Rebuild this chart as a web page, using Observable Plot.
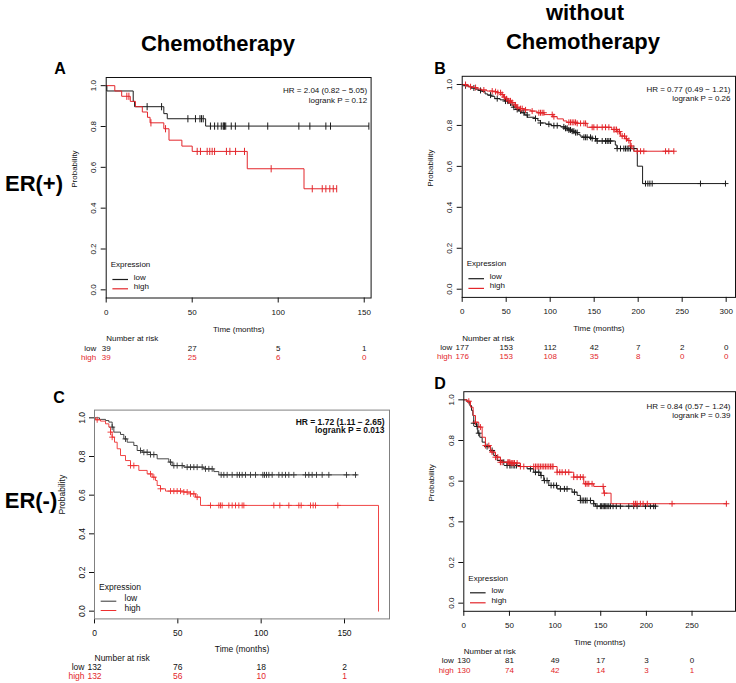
<!DOCTYPE html>
<html><head><meta charset="utf-8">
<script src="https://cdn.jsdelivr.net/npm/d3@7"></script>
<script src="https://cdn.jsdelivr.net/npm/@observablehq/plot@0.6"></script>
<style>
html,body{margin:0;padding:0;background:#fff;}
#root{position:relative;width:736px;height:683px;overflow:hidden;font-family:"Liberation Sans",Arial,sans-serif;}
#root svg.pan{position:absolute;}
#overlay{position:absolute;left:0;top:0;pointer-events:none;}
</style></head><body><div id="root"></div>
<script>
// ---------- data ----------
const groups = ["low", "high"];
const yTicks = [0, 0.2, 0.4, 0.6, 0.8, 1.0];
const xTicksA = [0, 50, 100, 150];
const xTicksB = [0, 50, 100, 150, 200, 250, 300];
const xTicksC = [0, 50, 100, 150];
const xTicksD = [0, 50, 100, 150, 200, 250];

const riskLowA = [39, 27, 5, 1];
const riskHighA = [39, 25, 6, 0];
const riskLowB = [177, 153, 112, 42, 7, 2, 0];
const riskHighB = [176, 153, 108, 35, 8, 0, 0];
const riskLowC = [132, 76, 18, 2];
const riskHighC = [132, 56, 10, 1];
const riskLowD = [130, 81, 49, 17, 3, 0];
const riskHighD = [130, 74, 42, 14, 3, 1];

const hrA = ["HR = 2.04 (0.82 \u2212 5.05)", "logrank P = 0.12"];
const hrB = ["HR = 0.77 (0.49 \u2212 1.21)", "logrank P = 0.26"];
const hrC = ["HR = 1.72 (1.11 \u2212 2.65)", "logrank P = 0.013"];
const hrD = ["HR = 0.84 (0.57 \u2212 1.24)", "logrank P = 0.39"];

// Kaplan-Meier steps: [time (months), survival after step]
const lowStepsA = [[0,1],[0.4,0.974],[15.7,0.923],[16.5,0.897],[33.5,0.863],[35.5,0.838],[57.8,0.802],[152.7,0.802]];
const highStepsA = [[0,1],[5,0.974],[9,0.948],[14,0.923],[17,0.897],[21,0.871],[24,0.845],[25.5,0.818],[33.5,0.789],[36.5,0.733],[44,0.704],[50,0.678],[82,0.593],[115,0.495],[134,0.495]];
const lowCensA = [23.8,32.2,47.5,51.9,54.5,55.4,56.4,60.6,63,64.9,66.9,68,68.4,68.8,69.5,72.7,75.1,82.9,93.9,112,118.4,127.7,130.4,152.7];
const highCensA = [12,13.2,26,34.5,52.9,54.8,58.7,60.2,61.6,63,69.9,71.9,75.2,80.4,95.9,119.8,125.6,127.7,130,132,134];

const lowStepsB = [[0,1],[3,0.994],[7,0.989],[10,0.983],[15,0.977],[19,0.971],[22,0.966],[26,0.954],[29,0.948],[33,0.942],[37,0.931],[43,0.925],[48,0.919],[52,0.91],[55,0.9],[58,0.889],[61,0.878],[64,0.871],[67,0.862],[71,0.851],[74,0.84],[82,0.834],[86,0.823],[89,0.812],[95,0.806],[101,0.799],[112,0.793],[117,0.786],[120,0.778],[124,0.772],[127,0.765],[131,0.757],[134,0.748],[137,0.742],[146,0.736],[153,0.724],[174,0.704],[176,0.687],[199,0.601],[205,0.516],[299.2,0.516]];
const highStepsB = [[0,1],[4,0.994],[8,0.989],[12,0.985],[17,0.978],[22,0.973],[28,0.968],[35,0.965],[40,0.96],[44,0.951],[47,0.938],[50,0.93],[53,0.92],[56,0.912],[59,0.9],[62,0.889],[66,0.882],[70,0.876],[78,0.87],[85,0.862],[93,0.853],[103,0.843],[108,0.832],[115,0.822],[119,0.815],[130,0.81],[142,0.791],[170,0.78],[176,0.77],[180,0.748],[185,0.735],[188,0.726],[191,0.7],[193,0.686],[195,0.674],[240.5,0.674]];
const lowCensB = [3.8,13.3,20.8,32.2,39.8,49.2,51.9,54.9,58.7,62.5,66.3,70.1,73.9,83.3,89,98.5,104.2,108,115.5,117.4,119.3,121.2,123.1,125,126.9,128.8,130.7,138.3,140.2,142,145.8,147.7,151.5,153.4,159.1,162.9,164.8,166.7,168.6,176.1,179.9,183.7,185.6,187.5,189.4,191.3,195.1,208.3,211,213.3,215.9,270.8,299.2];
const highCensB = [3.8,9.5,15.2,24.6,34.1,37.9,40.5,43.6,45.5,48.1,50.4,53,54.9,56.8,60.6,62.5,66.3,68.2,72,79.5,87.1,89,90.9,92.8,102.3,104.2,121.2,123.1,125,126.9,128.8,130.7,134.5,138.3,140.2,147.7,149.6,153.4,159.1,162.9,166.7,172.3,173.5,175.4,176.9,178.8,181.8,184.5,186.7,189.4,192,198.9,202.7,206.4,231.1,234.8,240.5];

const lowStepsC = [[0,1],[3,0.992],[6.6,0.986],[8.6,0.978],[10.6,0.952],[11.6,0.926],[15.6,0.914],[17.6,0.891],[19.6,0.874],[23.6,0.857],[25.6,0.831],[28.6,0.822],[33.6,0.81],[37.6,0.788],[44.6,0.771],[46.6,0.753],[53.6,0.745],[65.6,0.736],[71.6,0.722],[74.6,0.705],[157.6,0.705]];
const highStepsC = [[0,1],[0.6,0.99],[3.6,0.983],[6.6,0.969],[8.6,0.952],[9.6,0.926],[10.6,0.9],[12,0.874],[13.6,0.84],[15.6,0.805],[18.6,0.779],[21.6,0.753],[26.6,0.728],[31.6,0.71],[34.6,0.693],[36.6,0.676],[37.6,0.65],[39.6,0.633],[42.6,0.621],[53.6,0.616],[57.6,0.607],[60.6,0.59],[63.6,0.547],[170.4,0]];
const lowCensC = [10.6,18.6,27.6,29.6,31.6,33.6,35.6,45.6,47.6,49.6,52.6,55.6,57.6,59.6,61.6,64.6,66.6,68.6,70.6,76,77.6,79.6,82.6,85.6,87,88.6,90.6,93.6,96.6,101,102,103.2,104.6,106.6,110.6,112.6,114.6,116.6,119.6,126.6,128.6,130.6,133.2,136.6,140.6,151.2,156.6];
const highCensC = [1.6,9.6,10.6,21.6,23.6,33.6,35.6,39.6,45.6,47.6,49.6,51.6,53.6,55.6,57.6,59.6,61.6,69.6,74.6,75.6,76.6,80.6,82.6,84.6,86.6,88.6,89.6,107.6,111.2,116.6,122.6,124,129.6,131.2,132.6,146];

const lowStepsD = [[0,1],[3.6,0.989],[6.6,0.972],[8.4,0.948],[9.9,0.923],[10.9,0.885],[13.9,0.869],[15.3,0.836],[17.5,0.816],[20.1,0.792],[23.7,0.77],[29.2,0.751],[32.8,0.726],[36.5,0.702],[42,0.693],[47.4,0.677],[62,0.672],[69.3,0.661],[76.6,0.644],[83.9,0.628],[87.6,0.603],[93.1,0.579],[102.2,0.562],[118.6,0.546],[124.1,0.53],[127.7,0.505],[142.3,0.489],[144.2,0.477],[209.9,0.477]];
const highStepsD = [[0,1],[3.6,0.993],[7.3,0.964],[10.2,0.923],[12.8,0.89],[16.4,0.866],[20.1,0.816],[23.7,0.775],[29.2,0.743],[34.7,0.718],[40.1,0.693],[51.1,0.689],[62,0.672],[102.2,0.644],[120.4,0.62],[131.4,0.587],[142.3,0.574],[153.3,0.541],[161.3,0.489],[288.3,0.489]];
const lowCensD = [10.9,14.6,16.4,25.5,31,40.1,43.8,47.4,50.4,51.8,54,55.8,57.7,73,78.5,82.1,84.7,88.3,91.2,95.6,98.5,101.5,105.8,110.2,113.1,121.2,127.7,129.6,131.4,133.2,135,138.7,142.3,146,149.6,151,152.6,154,155.5,157,158.8,160.6,163.5,167,171.5,180.7,186.1,189.8,199,204.4,208,209.9];
const highCensD = [5.5,12.8,18.2,23.7,27.4,31,34.7,37.2,40.1,42,48.2,49.3,50.4,51.8,52.9,54,55.5,58.4,62,65.7,76.6,78.5,80.3,82.1,83.9,85.8,87.6,89.4,91.2,93.1,94.9,96.7,97.8,102.2,105.1,107.7,111.3,115,120.4,124.1,127.7,130.7,133.2,135,136.9,140.5,152.6,154,186.1,188,189.8,193.4,196.4,201,228.1,287.6];

const panelLetters = ["A", "B", "C", "D"];
const columnTitles = [["Chemotherapy"], ["without", "Chemotherapy"]];
const rowTitles = ["ER(+)", "ER(-)"];

// ---------- drawing ----------
const FONT = "'Liberation Sans', Arial, Helvetica, sans-serif";
const vbar = {draw(ctx, size) { const r = Math.sqrt(size / Math.PI); ctx.moveTo(0, -r); ctx.lineTo(0, r); }};
const plus = {draw(ctx, size) { const r = Math.sqrt(size / Math.PI); ctx.moveTo(-r, 0); ctx.lineTo(r, 0); ctx.moveTo(0, -r); ctx.lineTo(0, r); }};
const hline = {draw(ctx, size) { const r = Math.sqrt(size / Math.PI); ctx.moveTo(-r, 0); ctx.lineTo(r, 0); }};

function survAt(steps, t) {
  let s = steps[0][1];
  for (const [ti, si] of steps) { if (ti <= t) s = si; else break; }
  return s;
}

function panel(p) {
  const fs = p.fs;
  const series = [
    {name: groups[0], steps: p.lowSteps, cens: p.lowCens, risk: p.lowRisk, color: p.lowColor, tcolor: "#111"},
    {name: groups[1], steps: p.highSteps, cens: p.highCens, risk: p.highRisk, color: p.highColor, tcolor: p.highText}
  ];
  const marks = [];
  for (const s of series) {
    marks.push(Plot.line(s.steps, {x: d => d[0], y: d => d[1], curve: "step-after", stroke: s.color, strokeWidth: p.lw}));
    marks.push(Plot.dot(s.cens, {x: d => d, y: d => survAt(s.steps, d), symbol: p.sym, r: p.symR, stroke: s.color, fill: "none", strokeWidth: p.lw}));
  }
  marks.push(Plot.frame({stroke: p.frameColor, strokeWidth: 1}));
  p.hr.forEach((t, i) => marks.push(Plot.text([t], {frameAnchor: "top-right", dx: p.hrDx, dy: p.hrDy[i], textAnchor: "end", text: d => d, fontSize: fs, fontWeight: p.hrWeight})));
  marks.push(Plot.text(["Expression"], {frameAnchor: "bottom-left", dx: 4.5, dy: p.legDy[0], textAnchor: "start", text: d => d, fontSize: fs}));
  series.forEach((s, i) => {
    marks.push(Plot.dot([s.name], {frameAnchor: "bottom-left", dx: 14, dy: p.legDy[i + 1], symbol: hline, r: 7.8, stroke: s.color, strokeWidth: p.legLw}));
    marks.push(Plot.text([s.name], {frameAnchor: "bottom-left", dx: p.legTx, dy: p.legDy[i + 1], textAnchor: "start", text: d => d, fontSize: fs}));
  });
  marks.push(Plot.text(["Probability"], {frameAnchor: "left", dx: -32, rotate: -90, text: d => d, fontSize: fs}));
  marks.push(Plot.text(["Time (months)"], {frameAnchor: "bottom", dy: p.timeDy, text: d => d, fontSize: fs}));
  marks.push(Plot.text(["Number at risk"], {frameAnchor: "bottom-left", dy: p.narDy, textAnchor: "start", text: d => d, fontSize: fs}));
  series.forEach((s, i) => {
    const dy = p.riskDy[i];
    marks.push(Plot.text([s.name], {frameAnchor: "bottom-left", dx: -10, dy, textAnchor: "end", fill: s.tcolor, text: d => d, fontSize: fs}));
    marks.push(Plot.text(p.xTicks, {x: d => d, frameAnchor: "bottom", dy, text: (d, j) => String(s.risk[j]), fill: s.tcolor, fontSize: fs}));
  });
  const g = p.geo;
  const svg = Plot.plot({
    width: g.w, height: g.h,
    marginLeft: g.ml, marginRight: g.mr, marginTop: g.mt, marginBottom: g.mb,
    x: {domain: [0, p.xmax], ticks: p.xTicks, tickSize: 5, tickPadding: 6, tickFormat: d => String(d), label: null},
    y: {domain: [-0.04, 1.04], ticks: yTicks, tickSize: 5, tickPadding: 5, tickRotate: -90, tickFormat: d3.format(".1f"), label: null},
    style: {fontFamily: FONT, fontSize: fs + "px", background: "transparent", overflow: "visible", color: "#111"},
    marks
  });
  svg.classList.add("pan");
  svg.style.left = g.sx + "px";
  svg.style.top = g.sy + "px";
  return svg;
}

const RED = "#e3262b", BLACK = "#1c1c1c";
const root = document.getElementById("root");

const common = {fs: 8, lw: 1, legLw: 1.2, hrWeight: "normal", lowColor: BLACK, highColor: RED, highText: RED, frameColor: "#111", legTx: 27.6};

root.appendChild(panel({...common,
  geo: {sx: 40, sy: 55, w: 340, h: 310, ml: 65.7, mr: 9.4, mt: 22, mb: 67.5},
  xmax: 154, xTicks: xTicksA, sym: vbar, symR: 3.6,
  lowSteps: lowStepsA, highSteps: highStepsA, lowCens: lowCensA, highCens: highCensA,
  lowRisk: riskLowA, highRisk: riskHighA, hr: hrA, hrDx: -4, hrDy: [10.3, 19.7],
  legDy: [-30.8, -18.5, -9.2], timeDy: 34.2, narDy: 43.2, riskDy: [52.5, 61.5]}));

root.appendChild(panel({...common,
  geo: {sx: 400, sy: 55, w: 336, h: 310, ml: 61.7, mr: 1, mt: 20.8, mb: 68.1},
  xmax: 310.6, xTicks: xTicksB, sym: plus, symR: 3,
  lowSteps: lowStepsB, highSteps: highStepsB, lowCens: lowCensB, highCens: highCensB,
  lowRisk: riskLowB, highRisk: riskHighB, hr: hrB, hrDx: -5, hrDy: [10.2, 18.8],
  legDy: [-31, -18.7, -9], timeDy: 33.8, narDy: 43.1, riskDy: [52.3, 61.3]}));

root.appendChild(panel({...common, fs: 8.5, lw: 0.9, hrWeight: "bold", frameColor: "#808080", lowColor: "#333", highColor: "#ee3030", legLw: 1, legTx: 30,
  geo: {sx: 40, sy: 385, w: 350, h: 298, ml: 54, mr: 1, mt: 24.6, mb: 64.6},
  xmax: 177, xTicks: xTicksC, sym: plus, symR: 3,
  lowSteps: lowStepsC, highSteps: highStepsC, lowCens: lowCensC, highCens: highCensC,
  lowRisk: riskLowC, highRisk: riskHighC, hr: hrC, hrDx: -5, hrDy: [8.7, 17.2],
  legDy: [-29, -17.7, -8.4], timeDy: 33.3, narDy: 42.3, riskDy: [50.6, 60]}));

root.appendChild(panel({...common,
  geo: {sx: 400, sy: 375, w: 336, h: 308, ml: 63.3, mr: 1, mt: 16.2, mb: 72.2},
  xmax: 297.6, xTicks: xTicksD, sym: plus, symR: 3,
  lowSteps: lowStepsD, highSteps: highStepsD, lowCens: lowCensD, highCens: highCensD,
  lowRisk: riskLowD, highRisk: riskHighD, hr: hrD, hrDx: -5, hrDy: [11.5, 20.5],
  legDy: [-30.8, -18.5, -8.5], timeDy: 33.2, narDy: 42.5, riskDy: [52, 61.5]}));

// ---------- titles / labels overlay ----------
const ns = "http://www.w3.org/2000/svg";
const ov = document.createElementNS(ns, "svg");
ov.setAttribute("id", "overlay");
ov.setAttribute("width", 736); ov.setAttribute("height", 683);
function addText(str, x, y, size, anchor) {
  const t = document.createElementNS(ns, "text");
  t.setAttribute("x", x); t.setAttribute("y", y);
  t.setAttribute("font-size", size); t.setAttribute("font-weight", "bold");
  t.setAttribute("font-family", FONT); t.setAttribute("text-anchor", anchor);
  t.setAttribute("fill", "#000");
  t.textContent = str;
  ov.appendChild(t);
}
addText(columnTitles[0][0], 218, 51, 22, "middle");
addText(columnTitles[1][0], 585, 20, 22, "middle");
addText(columnTitles[1][1], 583, 49, 22, "middle");
addText(rowTitles[0], 34, 191, 22, "middle");
addText(rowTitles[1], 31, 508, 22, "middle");
const letterPos = [[60, 74], [440, 74], [59, 403], [440, 389]];
panelLetters.forEach((l, i) => addText(l, letterPos[i][0], letterPos[i][1], 16, "middle"));
root.appendChild(ov);
</script></body></html>
